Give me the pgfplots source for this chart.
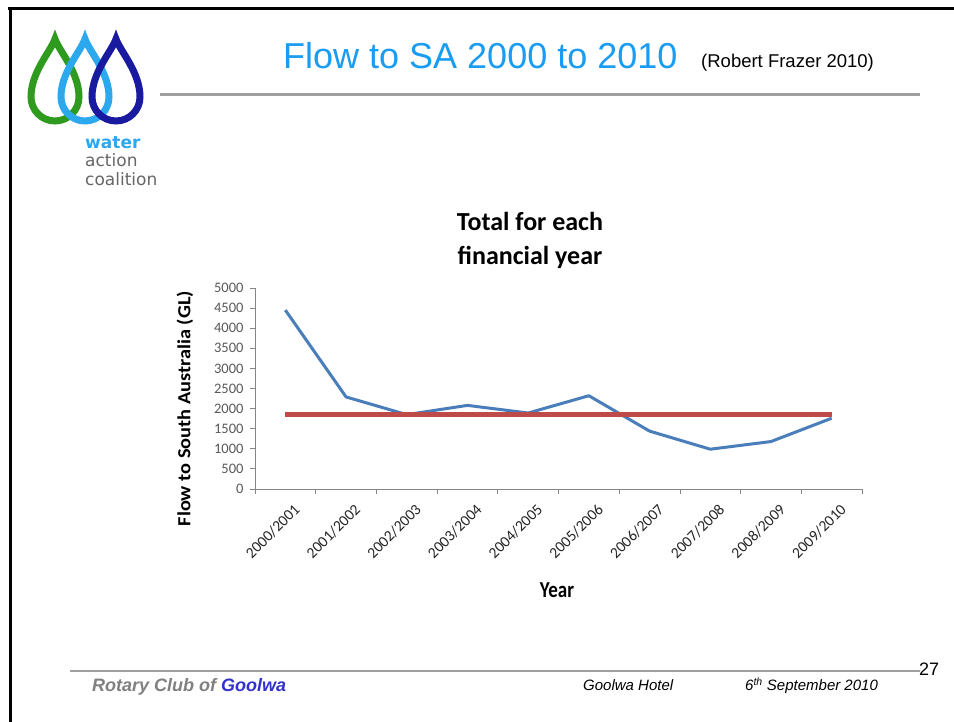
\documentclass[border=0pt]{standalone}
\usepackage{pgfplots}
\pgfplotsset{compat=1.18}
\usepackage{fontspec}
\setmainfont{Liberation Sans}
\newfontfamily\carlito{Carlito}
\newfontfamily\djv{DejaVu Sans}
\definecolor{titleblue}{HTML}{1A9CF2}
\definecolor{lineblue}{HTML}{4A7EBB}
\definecolor{linered}{HTML}{BE4B48}
\definecolor{dropgreen}{HTML}{2E9A1E}
\definecolor{droplight}{HTML}{2BA8EE}
\definecolor{dropdark}{HTML}{1A1AA0}
\definecolor{goolwablue}{HTML}{3333CC}
\definecolor{axisgray}{HTML}{868686}
\definecolor{ticktext}{HTML}{595959}
\definecolor{rulegray}{HTML}{A0A0A0}
\newcommand{\drop}[2]{\draw[#2, line width=7pt, line join=miter, miter limit=4] (#1,683) .. controls (#1-4,671) and (#1-24,650) .. (#1-24,625) arc[start angle=180,end angle=360,radius=24] .. controls (#1+24,650) and (#1+4,671) .. cycle;}
\begin{document}
\begin{tikzpicture}[x=1pt,y=1pt]
\useasboundingbox (0,0) rectangle (954,722);
\fill[white] (0,0) rectangle (954,722);
% slide border
\draw[black, line width=3pt] (8,713) -- (954,713);
\draw[black, line width=3pt] (10,0) -- (10,714.5);
% logo
\drop{55}{dropgreen}
\drop{85}{droplight}
\drop{116}{dropdark}
\node[anchor=base west, inner sep=0pt, text=droplight] at (85,573) {\djv\bfseries\fontsize{17}{19}\selectfont water};
\node[anchor=base west, inner sep=0pt, text=gray!80!black] at (85,555) {\djv\fontsize{17}{19}\selectfont action};
\node[anchor=base west, inner sep=0pt, text=gray!80!black] at (85,536) {\djv\fontsize{17}{19}\selectfont coalition};
% title
\node[anchor=base west, inner sep=0pt, text=titleblue] at (283,653) {\fontsize{36}{40}\selectfont Flow to SA 2000 to 2010};
\node[anchor=base west, inner sep=0pt] at (701,654) {\fontsize{18.5}{20}\selectfont (Robert Frazer 2010)};
\draw[rulegray, line width=3pt] (160,627) -- (920,627);
% chart title
\node[align=center, inner sep=0pt, font=\carlito\bfseries\fontsize{26}{34}\selectfont] at (530,482) {Total for each\\financial year};
\begin{axis}[
  at={(255pt,233pt)}, anchor=south west,
  scale only axis, width=607pt, height=201pt,
  xmin=-0.5, xmax=9.5, ymin=0, ymax=5000,
  axis x line=bottom, axis y line=left,
  axis line style={-, draw=axisgray, line width=0.8pt},
  tick style={draw=axisgray, line width=0.8pt},
  tick align=outside,
  major tick length=5pt,
  xtick={-0.5,0.5,...,9.5},
  xticklabels={},
  extra x ticks={0,1,2,3,4,5,6,7,8,9},
  extra x tick labels={2000/2001,2001/2002,2002/2003,2003/2004,2004/2005,2005/2006,2006/2007,2007/2008,2008/2009,2009/2010},
  extra x tick style={major tick length=0pt},
  xticklabel style={rotate=45, anchor=east, yshift=-21pt, xshift=-1pt, font=\carlito\fontsize{15.5}{16}\selectfont, text=black!85},
  ytick={0,500,...,5000},
  yticklabel style={font=\carlito\fontsize{14.5}{15}\selectfont, text=ticktext, xshift=-3pt},
  /pgf/number format/1000 sep={},
  /pgf/number format/assume math mode=true,
  ylabel={\scalebox{1.1}[1]{Flow to South Australia (GL)}},
  ylabel style={at={(axis description cs:-0.1153,0.40)}, anchor=center, font=\carlito\bfseries\fontsize{18.5}{21}\selectfont},
  xlabel={\scalebox{1}[1.2]{Year}},
  xlabel style={at={(axis description cs:0.4975,-0.5025)}, anchor=center, font=\carlito\bfseries\fontsize{19}{21}\selectfont},
  clip=false,
]
\addplot[lineblue, line width=3pt, line join=round] coordinates {(0,4450)(1,2290)(2,1850)(3,2080)(4,1890)(5,2320)(6,1440)(7,990)(8,1180)(9,1760)};
\addplot[linered, line width=5pt] coordinates {(0,1850)(9,1850)};
\end{axis}
% footer
\draw[rulegray, line width=2.5pt] (70,51) -- (920,51);
\node[anchor=base west, inner sep=0pt] at (919,46) {\fontsize{18}{20}\selectfont 27};
\node[anchor=base west, inner sep=0pt] at (92,30) {\fontsize{18}{20}\selectfont\bfseries\itshape \textcolor{gray}{Rotary Club of} \textcolor{goolwablue}{Goolwa}};
\node[anchor=base west, inner sep=0pt] at (583,31) {\fontsize{15}{18}\selectfont\itshape Goolwa Hotel};
\node[anchor=base west, inner sep=0pt] at (745,31) {\fontsize{15}{18}\selectfont\itshape 6\textsuperscript{th} September 2010};
\end{tikzpicture}
\end{document}
